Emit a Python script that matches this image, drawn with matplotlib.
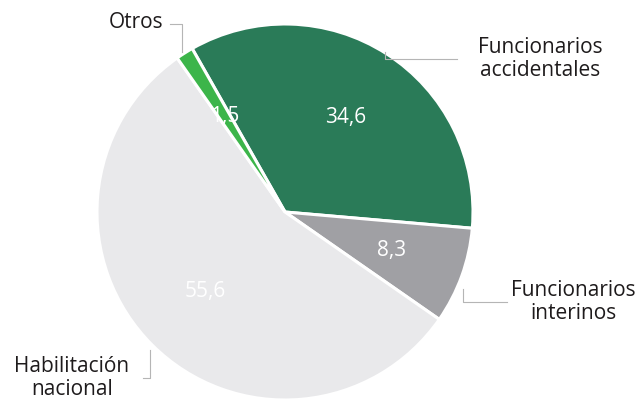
import matplotlib
matplotlib.use("Agg")
import matplotlib.pyplot as plt
import numpy as np

categories = ["Funcionarios\naccidentales", "Funcionarios\ninterinos", "Habilitación\nnacional", "Otros"]
values = [34.6, 8.3, 55.6, 1.5]
value_labels = ["34,6", "8,3", "55,6", "1,5"]
colors = ["#2a7b58", "#a0a0a4", "#e9e9eb", "#3cb54a"]

W, H = 642, 403
plt.rcParams['font.family'] = ['Open Sans', 'DejaVu Sans']

fig = plt.figure(figsize=(W / 100, H / 100), dpi=100)
ax = fig.add_axes([0, 0, 1, 1])

def Y(p):
    return H - p

cx, cy, R = 285, 212, 188
wedges, texts = ax.pie(values, colors=colors, startangle=119.6, counterclock=False,
                       center=(cx, Y(cy)), radius=R, frame=True,
                       wedgeprops=dict(edgecolor='white', linewidth=2.2))
ax.set_xlim(0, W)
ax.set_ylim(0, H)
ax.set_aspect('equal')
ax.axis('off')

for w, lab in zip(wedges, value_labels):
    ang = np.deg2rad((w.theta1 + w.theta2) / 2)
    ax.text(cx + 0.6 * R * np.cos(ang), Y(cy) + 0.6 * R * np.sin(ang), lab,
            ha='center', va='center', color='white', fontsize=15, fontweight='medium')

txt_color = '#1e1b1c'
line_color = '#b5b5b5'
label_pos = [(540, 59), (573, 302), (72, 378), (136, 23)]
for lab, (x, y) in zip(categories, label_pos):
    ax.text(x, Y(y), lab, ha='center', va='center', fontsize=15, color=txt_color,
            linespacing=1.15, fontweight='medium')

leaders = [
    [(385, 52), (385, 59), (457, 59)],
    [(463, 289), (463, 302), (507, 302)],
    [(150, 350), (150, 378), (143, 378)],
    [(170, 24), (182, 24), (182, 52)],
]
for pts in leaders:
    xs = [p[0] for p in pts]
    ys = [Y(p[1]) for p in pts]
    ax.plot(xs, ys, color=line_color, linewidth=0.8)

fig.savefig("out.png", dpi=100)
